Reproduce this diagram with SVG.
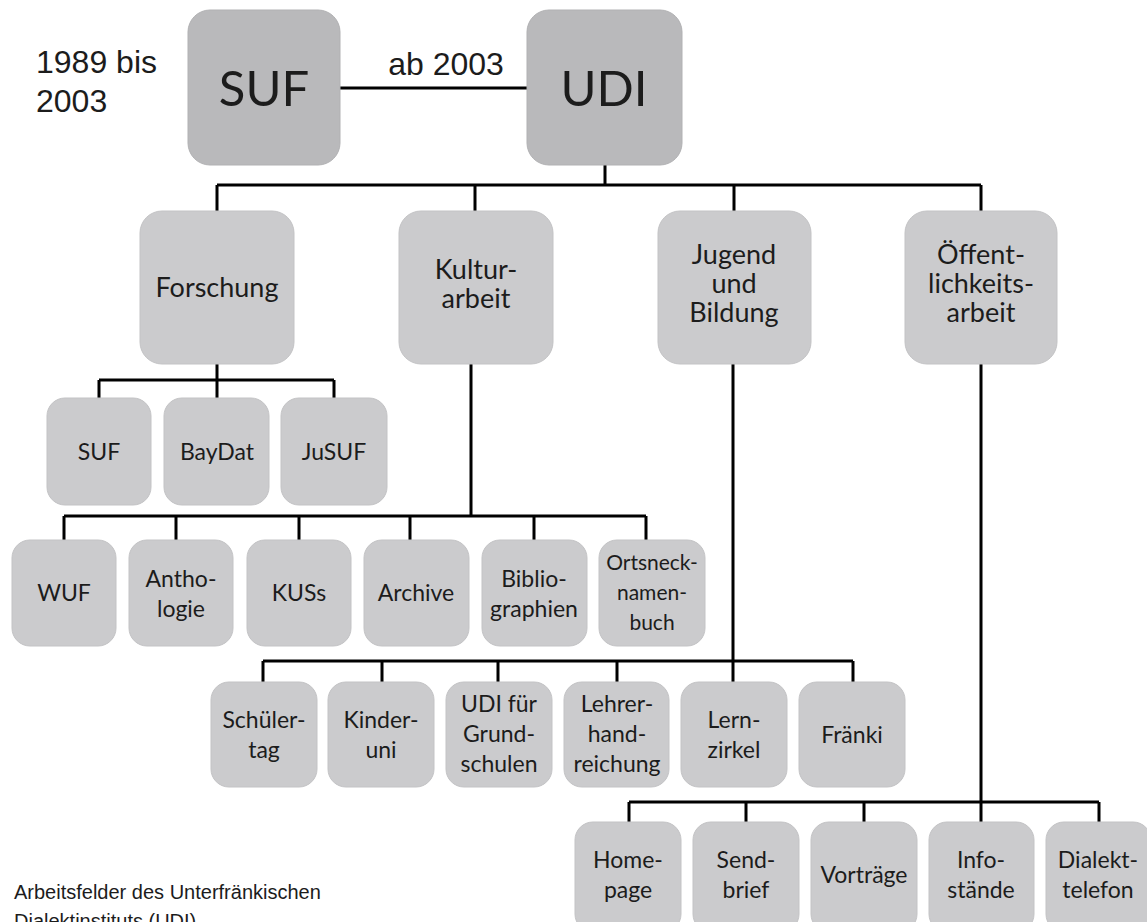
<svg xmlns="http://www.w3.org/2000/svg" width="1147" height="922" viewBox="0 0 1147 922">
<style>
.bx{fill:#cbcbcd;stroke:#c3c3c5;stroke-width:1}
.top{fill:#b9b9bb;stroke:#b1b1b3;stroke-width:1}
.t{font-family:Lato,"Open Sans",sans-serif;fill:#1c1c1c;text-anchor:middle}
.big{font-size:49px}
.m{font-size:27px}
.s{font-size:23px}
.xs{font-size:21px}
.a{font-family:"Liberation Sans",Arial,sans-serif;fill:#1c1c1c}
.ln{stroke:#000;stroke-width:3;fill:none}
</style>
<rect width="1147" height="922" fill="#fff"/>
<g id="connectors">
<path class="ln" d="M340 88H527"/>
<path class="ln" d="M605 165V185M217 185H981M217 185V211M475 185V211M734 185V211M981 185V211"/>
<path class="ln" d="M217 364V380M99 380H334M99 380V398M217 380V398M334 380V398"/>
<path class="ln" d="M471 364V516M64 516H646M64 516V540M176 516V540M299 516V540M410 516V540M534 516V540M646 516V540"/>
<path class="ln" d="M733 364V661M263 661H853M263 661V682M382 661V682M498 661V682M617 661V682M733 661V682M853 661V682"/>
<path class="ln" d="M981 364V802M629 802H1099M629 802V822M746 802V822M864 802V822M981 802V822M1099 802V822"/>
</g>
<text class="a" x="36" y="73" font-size="32">1989 bis</text>
<text class="a" x="36" y="112" font-size="32">2003</text>
<text class="a" x="446" y="75" font-size="32" text-anchor="middle">ab 2003</text>
<g id="n-suf-top"><rect class="top" x="188" y="10" width="152" height="155" rx="22"/><text class="t big" x="264" y="106">SUF</text></g>
<g id="n-udi"><rect class="top" x="527" y="10" width="155" height="155" rx="22"/><text class="t big" x="604" y="106">UDI</text></g>
<g id="n-forschung"><rect class="bx" x="140" y="211" width="154" height="153" rx="22"/><text class="t m" x="217" y="297">Forschung</text></g>
<g id="n-kultur"><rect class="bx" x="399" y="211" width="154" height="153" rx="22"/><text class="t m" x="476" y="279">Kultur-</text><text class="t m" x="476" y="308">arbeit</text></g>
<g id="n-jugend"><rect class="bx" x="658" y="211" width="153" height="153" rx="22"/><text class="t m" x="734" y="264">Jugend</text><text class="t m" x="734" y="293">und</text><text class="t m" x="734" y="322">Bildung</text></g>
<g id="n-oeff"><rect class="bx" x="905" y="211" width="152" height="153" rx="22"/><text class="t m" x="981" y="264">Öffent-</text><text class="t m" x="981" y="293">lichkeits-</text><text class="t m" x="981" y="322">arbeit</text></g>
<g id="n-suf"><rect class="bx" x="47" y="398" width="104" height="107" rx="18"/><text class="t s" x="99" y="460">SUF</text></g>
<g id="n-baydat"><rect class="bx" x="164" y="398" width="105" height="107" rx="18"/><text class="t s" x="217" y="460">BayDat</text></g>
<g id="n-jusuf"><rect class="bx" x="281" y="398" width="106" height="107" rx="18"/><text class="t s" x="334" y="460">JuSUF</text></g>
<g id="n-wuf"><rect class="bx" x="12" y="540" width="104" height="106" rx="18"/><text class="t s" x="64" y="601">WUF</text></g>
<g id="n-antho"><rect class="bx" x="129" y="540" width="104" height="106" rx="18"/><text class="t s" x="181" y="587">Antho-</text><text class="t s" x="181" y="617">logie</text></g>
<g id="n-kuss"><rect class="bx" x="247" y="540" width="104" height="106" rx="18"/><text class="t s" x="299" y="601">KUSs</text></g>
<g id="n-archive"><rect class="bx" x="364" y="540" width="105" height="106" rx="18"/><text class="t s" x="416" y="601">Archive</text></g>
<g id="n-biblio"><rect class="bx" x="482" y="540" width="105" height="106" rx="18"/><text class="t s" x="534" y="587">Biblio-</text><text class="t s" x="534" y="617">graphien</text></g>
<g id="n-ortsneck"><rect class="bx" x="599" y="540" width="106" height="106" rx="18"/><text class="t xs" x="652" y="570">Ortsneck-</text><text class="t xs" x="652" y="600">namen-</text><text class="t xs" x="652" y="630">buch</text></g>
<g id="n-schueler"><rect class="bx" x="211" y="682" width="106" height="105" rx="18"/><text class="t s" x="264" y="728">Schüler-</text><text class="t s" x="264" y="758">tag</text></g>
<g id="n-kinder"><rect class="bx" x="328" y="682" width="106" height="105" rx="18"/><text class="t s" x="381" y="728">Kinder-</text><text class="t s" x="381" y="758">uni</text></g>
<g id="n-udifuer"><rect class="bx" x="446" y="682" width="106" height="105" rx="18"/><text class="t s" x="499" y="712">UDI für</text><text class="t s" x="499" y="742">Grund-</text><text class="t s" x="499" y="772">schulen</text></g>
<g id="n-lehrer"><rect class="bx" x="564" y="682" width="105" height="105" rx="18"/><text class="t s" x="617" y="712">Lehrer-</text><text class="t s" x="617" y="742">hand-</text><text class="t s" x="617" y="772">reichung</text></g>
<g id="n-lern"><rect class="bx" x="681" y="682" width="106" height="105" rx="18"/><text class="t s" x="734" y="728">Lern-</text><text class="t s" x="734" y="758">zirkel</text></g>
<g id="n-fraenki"><rect class="bx" x="799" y="682" width="106" height="105" rx="18"/><text class="t s" x="852" y="743">Fränki</text></g>
<g id="n-home"><rect class="bx" x="575" y="822" width="106" height="110" rx="18"/><text class="t s" x="628" y="868">Home-</text><text class="t s" x="628" y="898">page</text></g>
<g id="n-send"><rect class="bx" x="693" y="822" width="106" height="110" rx="18"/><text class="t s" x="746" y="868">Send-</text><text class="t s" x="746" y="898">brief</text></g>
<g id="n-vortraege"><rect class="bx" x="811" y="822" width="106" height="110" rx="18"/><text class="t s" x="864" y="883">Vorträge</text></g>
<g id="n-info"><rect class="bx" x="929" y="822" width="105" height="110" rx="18"/><text class="t s" x="981" y="868">Info-</text><text class="t s" x="981" y="898">stände</text></g>
<g id="n-dialekt"><rect class="bx" x="1046" y="822" width="105" height="110" rx="18"/><text class="t s" x="1098" y="868">Dialekt-</text><text class="t s" x="1098" y="898">telefon</text></g>
<text class="a" x="14" y="899" font-size="20">Arbeitsfelder des Unterfränkischen</text>
<text class="a" x="14" y="928" font-size="20">Dialektinstituts (UDI)</text>
</svg>
